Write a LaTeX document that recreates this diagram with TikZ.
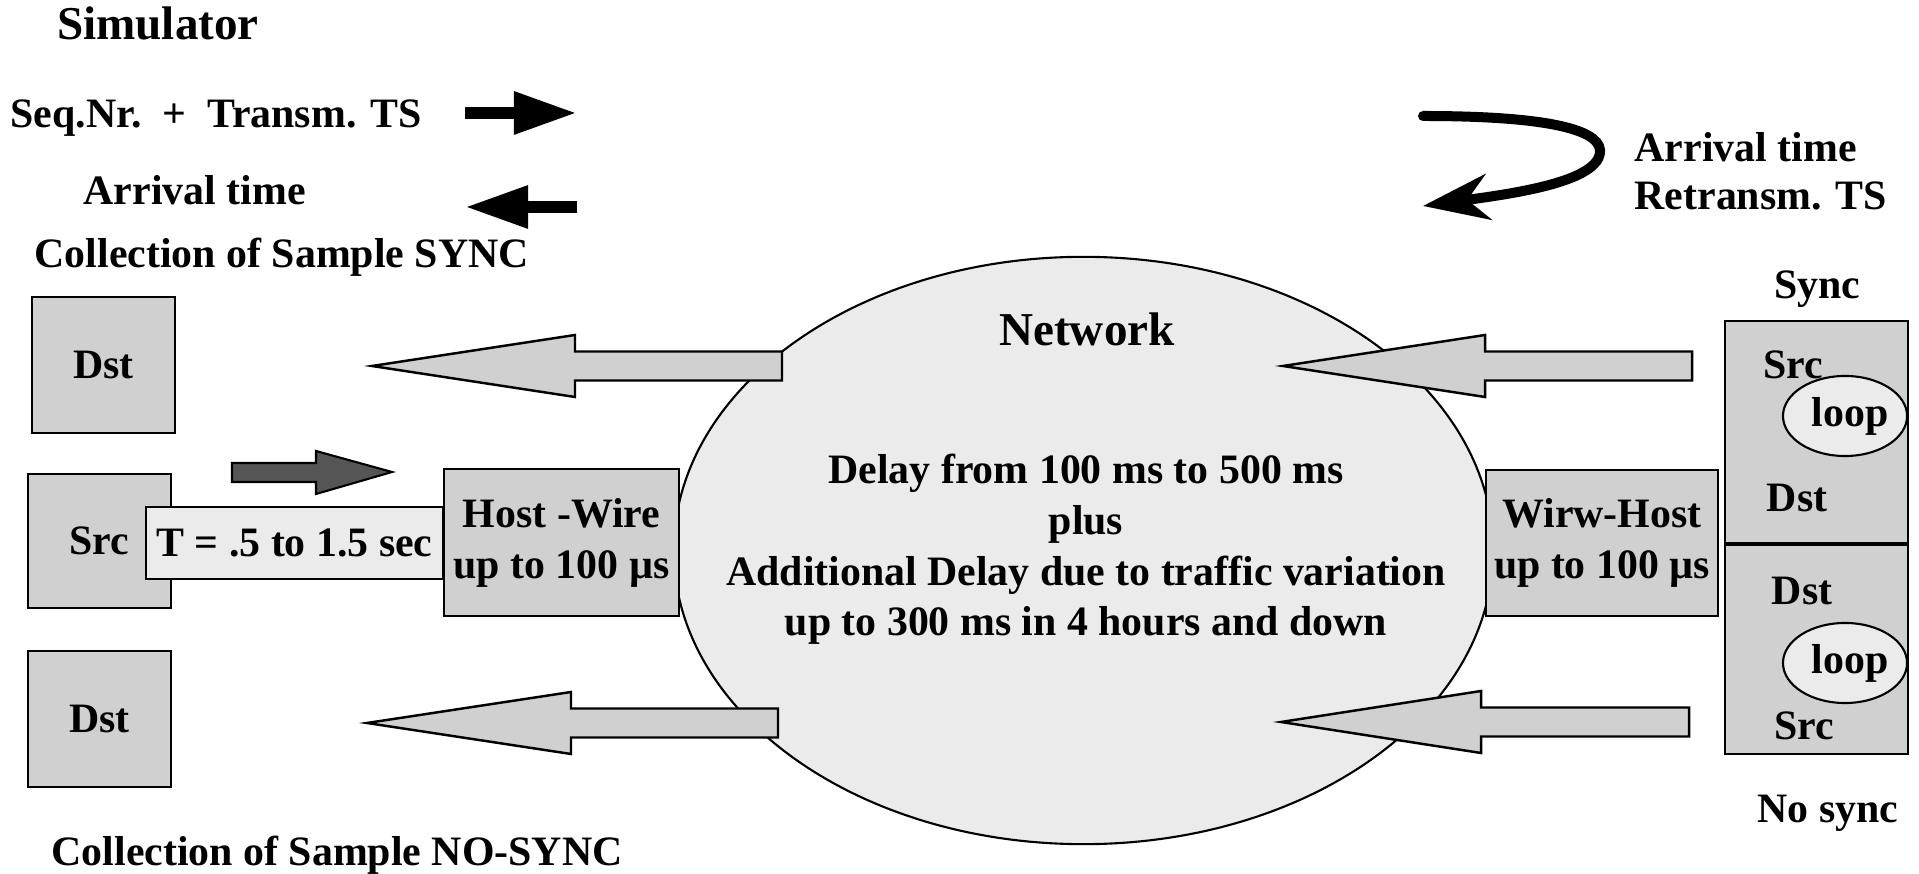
\documentclass[tikz,border=0pt]{standalone}
\usepackage{fontspec}
\setmainfont{Liberation Serif}
\usetikzlibrary{shapes.geometric,arrows.meta}
\definecolor{boxgray}{RGB}{208,208,208}
\definecolor{netgray}{RGB}{235,235,235}
\definecolor{pushgray}{RGB}{85,85,85}

\begin{document}
\begin{tikzpicture}
[x=0.01cm,y=-0.01cm,
  textDecorate/.style={font=\fontsize{11.9}{14.5}\selectfont\bfseries,inner sep=0pt},%
  titleDecorate/.style={font=\fontsize{13.4}{16}\selectfont\bfseries,inner sep=0pt},%
  boxDecorate/.style={shape=rectangle,draw,line width=0.6pt,fill=boxgray,inner sep=0pt,textDecorate,align=center},%
  loopDecorate/.style={shape=ellipse,draw,line width=0.6pt,fill=netgray,inner sep=0pt,minimum width=1.24cm,minimum height=0.8cm,textDecorate},%
  blockDecorate/.style={draw,line width=0.7pt,fill=boxgray,line join=miter},%
  boldDecorate/.style={line width=0.12cm,-{Triangle[length=0.63cm,width=0.40cm]}}]
\useasboundingbox (0,0) rectangle (1919,874);

%% texts of the legend
\node (simulator) at (158,40) [titleDecorate,anchor=base] {Simulator};
\node (seqnr) at (10,128) [textDecorate,anchor=base west] {Seq.Nr.~~+~~Transm. TS};
\node (arrivalL) at (83,205) [textDecorate,anchor=base west] {Arrival time};
\node (collSync) at (34,268) [textDecorate,anchor=base west] {Collection of Sample SYNC};
\node (collNoSync) at (51,866) [textDecorate,anchor=base west] {Collection of Sample NO-SYNC};
\node (arrivalR) at (1634,162) [textDecorate,anchor=base west] {Arrival time};
\node (retransm) at (1634,210) [textDecorate,anchor=base west] {Retransm. TS};
\node (sync) at (1817,299) [textDecorate,anchor=base] {Sync};
\node (nosync) at (1828,823) [textDecorate,anchor=base] {No sync};

%% legend arrows
\coordinate (seqTail) at (465,113);
\coordinate (seqHead) at (577,113);
\coordinate (arrTail) at (577,207);
\coordinate (arrHead) at (465,207);
\draw[boldDecorate] (seqTail) -- (seqHead);
\draw[boldDecorate] (arrTail) -- (arrHead);
\coordinate (turnA) at (1423,116);
\coordinate (turnB) at (1600,150);
\coordinate (turnC) at (1423,206);
\draw[line width=0.1cm,line cap=round,-{Stealth[length=0.66cm,width=0.46cm]}]
  (turnA) .. controls (1540,116) and (1598,128) .. (turnB)
  .. controls (1602,182) and (1510,194) .. (turnC);

%% network
\node (net) at (1083.5,550.5) [shape=ellipse,draw,line width=0.6pt,fill=netgray,minimum width=8.19cm,minimum height=5.87cm,inner sep=0pt] {};
\node (network) at (1087,346) [titleDecorate,anchor=base] {Network};
\node (delay) at (1086,636) [textDecorate,anchor=base,align=center]
  {Delay from 100 ms to 500 ms\\plus\\Additional Delay due to traffic variation\\up to 300 ms in 4 hours and down};

%% flow arrows
\foreach \tip/\base/\tail/\y in {
  372/575/782/366, 367/571/778/723, 1283/1485/1692/366, 1281/1481/1689/722}
{
  \draw[blockDecorate] (\tip,\y) -- (\base,\y-31) -- (\base,\y-14.5) -- (\tail,\y-14.5)
    -- (\tail,\y+14.5) -- (\base,\y+14.5) -- (\base,\y+31) -- cycle;
}
\draw[draw,line width=0.6pt,fill=pushgray,line join=miter] (392,472) -- (316,451) -- (316,463) -- (232,463)
  -- (232,482) -- (316,482) -- (316,494) -- cycle;

%% hosts
\foreach \nodename/\x/\y/\w/\h/\txt in {
  dstA/103.5/365/1.43/1.36/Dst, srcA/99.5/541/1.43/1.34/Src, dstB/99.5/719/1.43/1.36/Dst}
{
  \node (\nodename) at (\x,\y) [boxDecorate,minimum width=\w cm,minimum height=\h cm] {\txt};
}
\node (period) at (294.5,543) [boxDecorate,fill=netgray,minimum width=2.97cm,minimum height=0.72cm] {T = .5 to 1.5 sec};
\node (hostwire) at (561.5,542.5) [boxDecorate,minimum width=2.35cm,minimum height=1.47cm] {Host -Wire\\up to 100 µs};
\node (wirehost) at (1602,543) [boxDecorate,minimum width=2.32cm,minimum height=1.46cm] {Wirw-Host\\up to 100 µs};

%% looped hosts
\node (syncbox) at (1816.5,432) [boxDecorate,minimum width=1.83cm,minimum height=2.22cm] {};
\node (nosyncbox) at (1816.5,648.5) [boxDecorate,minimum width=1.83cm,minimum height=2.11cm] {};
\draw[line width=1.3pt] (syncbox.south west) -- (syncbox.south east);
\node (loopA) at (1845,416) [loopDecorate] {~loop};
\node (loopB) at (1845,663) [loopDecorate] {~loop};
\foreach \nodename/\x/\y/\txt in {
  srcS/1793/365/Src, dstS/1797/498/Dst, dstN/1802/591/Dst, srcN/1804/726/Src}
{
  \node (\nodename) at (\x,\y) [textDecorate] {\txt};
}
\end{tikzpicture}
\end{document}
